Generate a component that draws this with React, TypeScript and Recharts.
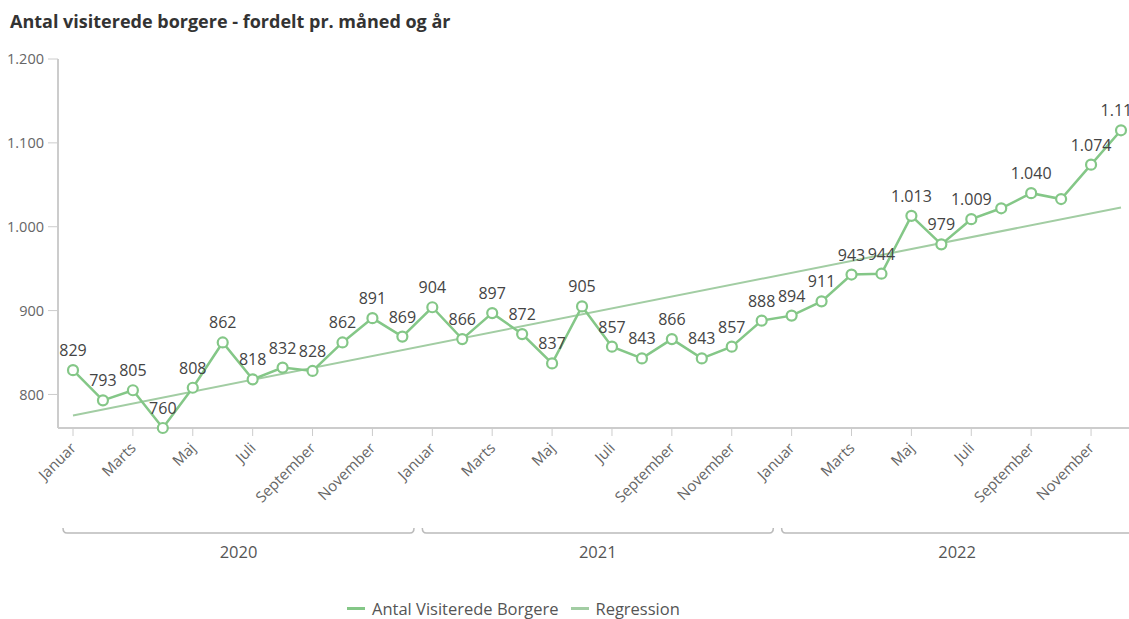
import React from 'react';
import { LineChart, Line, XAxis, YAxis, Legend } from 'recharts';

const months = ['Januar', 'Februar', 'Marts', 'April', 'Maj', 'Juni', 'Juli', 'August', 'September', 'Oktober', 'November', 'December'];
const years = ['2020', '2021', '2022'];
const visits = [
  829, 793, 805, 760, 808, 862, 818, 832, 828, 862, 891, 869,
  904, 866, 897, 872, 837, 905, 857, 843, 866, 843, 857, 888,
  894, 911, 943, 944, 1013, 979, 1009, 1022, 1040, 1033, 1074, 1115,
];
// regression line: only the two end points, the line joins them
const regressionStart = 775;
const regressionEnd = 1023;
const yTicks = [800, 900, 1000, 1100, 1200];
// labels the original hides because they overlap
const hiddenLabels = [31, 33];

const data = visits.map((v, i) => ({
  month: months[i % 12],
  year: years[Math.floor(i / 12)],
  visits: v,
  regression: i === 0 ? regressionStart : i === visits.length - 1 ? regressionEnd : null,
}));

const fmt = (v: number) =>
  v >= 1000 ? `${Math.floor(v / 1000)}.${String(v % 1000).padStart(3, '0')}` : String(v);

const MAIN = '#84c787';
const REG = '#a2cda3';

const MonthTick = ({ x, y, payload }: any) => (
  <g transform={`translate(${x + 4},${y + 11})`}>
    <text x={0} y={0} textAnchor="end" transform="rotate(-45)" fontSize={15} fill="#666">
      {payload.value}
    </text>
  </g>
);

// bracket under each year, drawn from the first month tick of the year
const YearTick = ({ x, y, payload, index }: any) => {
  const i = payload?.index ?? index;
  if (i % 12 !== 0) return null;
  const x1 = x - 10;
  const x2 = x + 341;
  const by = y + 11;
  return (
    <g>
      <path
        d={`M${x1},${by - 5} Q${x1},${by} ${x1 + 4},${by} L${x2 - 4},${by} Q${x2},${by} ${x2},${by - 5}`}
        fill="none"
        stroke="#bbb"
        strokeWidth={1.5}
      />
      <text x={(x1 + x2) / 2} y={by + 25} textAnchor="middle" fontSize={16.5} fill="#555">
        {payload.value}
      </text>
    </g>
  );
};

const PointLabel = ({ x, y, value, index }: any) => {
  if (value == null || hiddenLabels.includes(index)) return null;
  return (
    <text x={x} y={y - 14} textAnchor="middle" fontSize={16} fill="#444">
      {fmt(value)}
    </text>
  );
};

const LegendBox = () => (
  <div style={{ display: 'flex', alignItems: 'center', fontSize: 16.5, color: '#555', height: 22, paddingLeft: 347 }}>
    <span style={{ display: 'inline-block', width: 18, height: 3, background: MAIN, marginRight: 7 }} />
    <span style={{ marginRight: 13 }}>Antal Visiterede Borgere</span>
    <span style={{ display: 'inline-block', width: 18, height: 3, background: REG, marginRight: 6 }} />
    <span>Regression</span>
  </div>
);

export default function App() {
  return (
    <div
      style={{
        position: 'fixed',
        left: 0,
        top: 0,
        width: 1129,
        height: 619,
        overflow: 'hidden',
        background: '#fff',
        fontFamily: '"Open Sans", sans-serif',
      }}
    >
      <div style={{ position: 'absolute', left: 10, top: 9, fontSize: 18, fontWeight: 700, color: '#333', whiteSpace: 'nowrap' }}>
        Antal visiterede borgere - fordelt pr. måned og år
      </div>
      <LineChart width={1140} height={619} data={data} margin={{ top: 59, right: 4, left: 0, bottom: 0 }}>
        <XAxis
          dataKey="month"
          interval={1}
          height={92}
          padding={{ left: 15, right: 15 }}
          axisLine={{ stroke: '#ccc', strokeWidth: 2 }}
          tickLine={{ stroke: '#ccc' }}
          tickSize={8}
          tick={<MonthTick />}
        />
        <XAxis
          xAxisId="year"
          dataKey="year"
          interval={0}
          height={77}
          padding={{ left: 15, right: 15 }}
          axisLine={false}
          tickLine={false}
          tickSize={0}
          tick={<YearTick />}
        />
        <YAxis
          width={58}
          domain={['dataMin', 1200]}
          ticks={yTicks}
          tickFormatter={fmt}
          axisLine={{ stroke: '#ccc', strokeWidth: 2 }}
          tickLine={{ stroke: '#ccc' }}
          tickSize={10}
          tickMargin={4}
          tick={{ fontSize: 14.5, fill: '#666' }}
        />
        <Legend verticalAlign="bottom" height={22} wrapperStyle={{ left: 0, width: 1129 }} content={<LegendBox />} />
        <Line
          dataKey="regression"
          name="Regression"
          stroke={REG}
          strokeWidth={2}
          dot={false}
          connectNulls
          isAnimationActive={false}
        />
        <Line
          dataKey="visits"
          name="Antal Visiterede Borgere"
          stroke={MAIN}
          strokeWidth={2.5}
          dot={{ r: 5, fill: '#fff', stroke: MAIN, strokeWidth: 2.2 }}
          label={<PointLabel />}
          isAnimationActive={false}
        />
      </LineChart>
    </div>
  );
}
